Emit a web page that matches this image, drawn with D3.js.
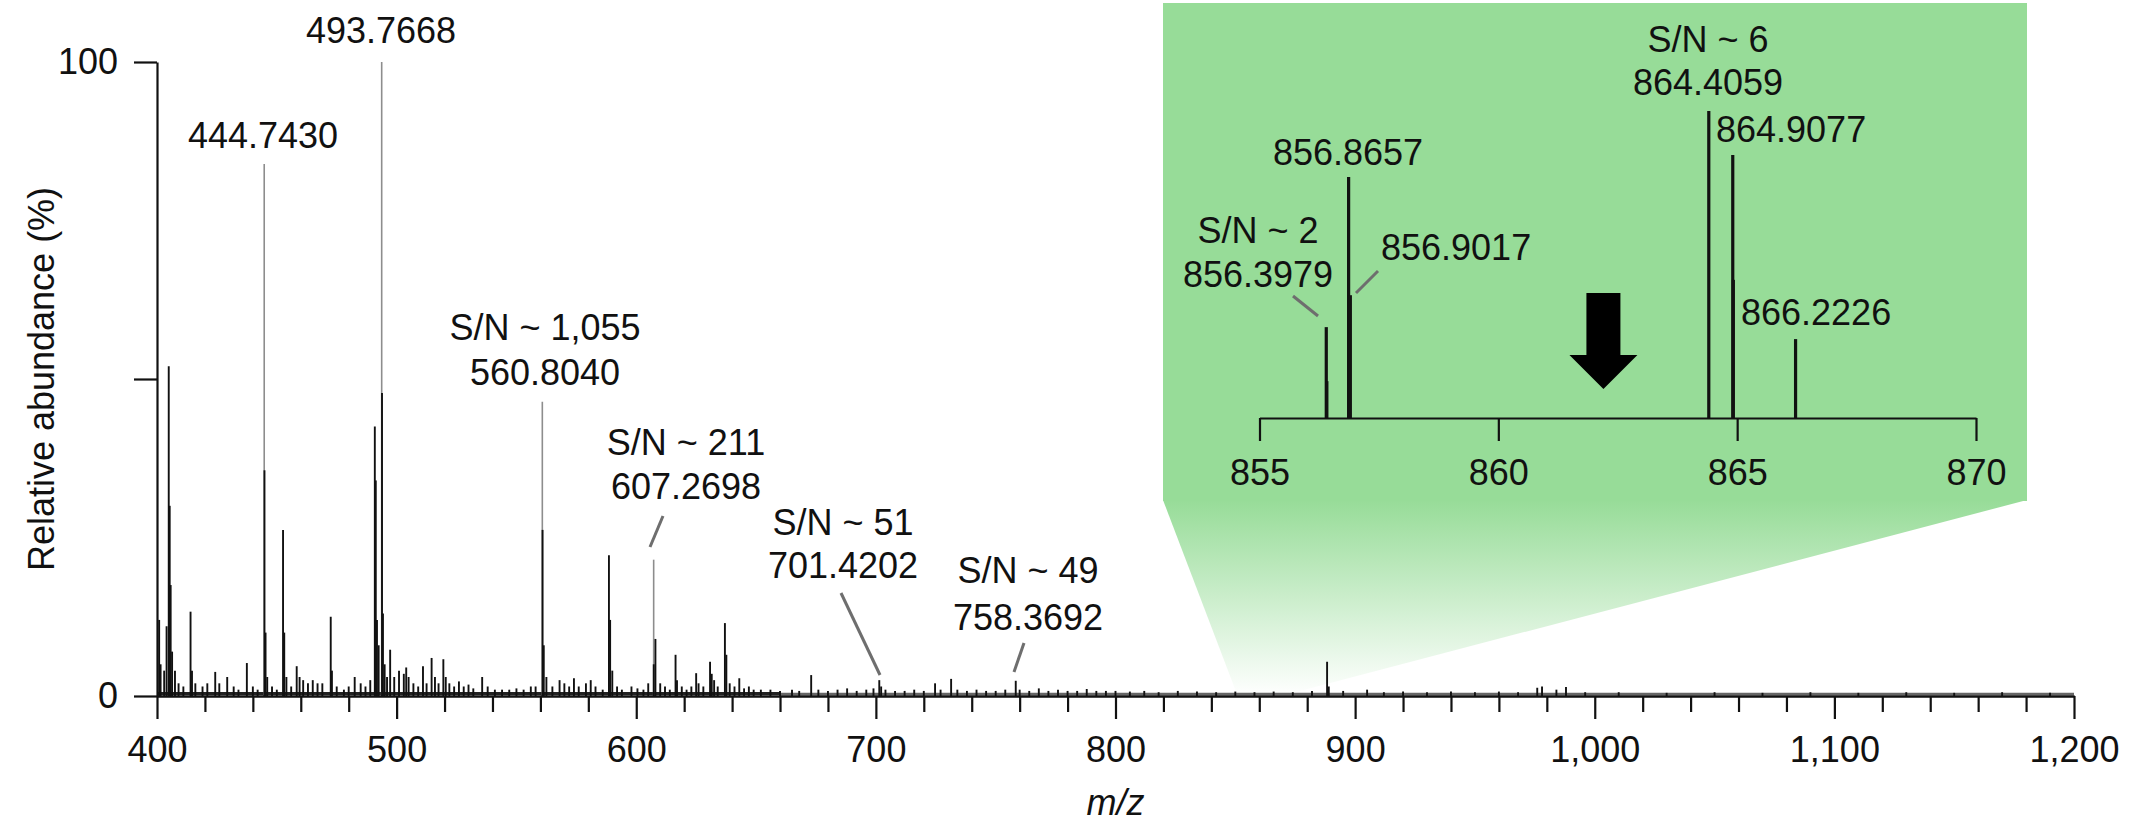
<!DOCTYPE html>
<html>
<head>
<meta charset="utf-8">
<script src="https://d3js.org/d3.v7.min.js"></script>
<style>
body { margin: 0; background: #fff; }
svg text { font-family: "Liberation Sans", Arial, Helvetica, sans-serif; font-size: 36px; fill: #111; }
</style>
</head>
<body>
<script>
// main spectrum sticks (m/z, relative abundance %)
var stickMz = [400.9, 401.5, 403.0, 404.0, 404.9, 405.3, 405.7, 406.3, 407.5, 409, 411, 414.0, 414.6, 416, 419, 421,
  424.3, 426, 429.3, 432, 434, 437.5, 440, 442, 444.85, 445.3, 446, 448, 450, 452.6, 453.1, 454, 456, 458.3, 459.5,
  461, 463, 465, 467, 469, 472.5, 473, 475, 478, 480, 482.5, 485, 487, 489, 490.9, 491.3, 491.8, 492.5, 493.9, 494.3,
  495, 496, 497.3, 499, 501, 503, 504, 505, 507, 509, 511, 512.5, 514.6, 516, 517.5, 519.5, 520.5, 522, 524, 526,
  528, 530, 532, 535.7, 538, 541, 544, 547, 550, 553, 556, 558, 560.9, 561.4, 562.5, 565, 568, 570, 572, 574, 576,
  579, 581, 583, 586, 588.6, 589.1, 590, 592, 594, 598, 600.5, 603, 605, 607.3, 608.0, 610, 612, 614, 616.4, 617,
  619, 621, 623, 625, 626, 628, 630.8, 631.5, 632.5, 634, 637, 637.6, 639, 641, 643, 645, 647, 649, 652, 656, 660,
  665, 668, 673, 676, 680, 684, 688, 692, 696, 699, 701.42, 702.2, 704, 708, 712, 716, 720, 724.7, 727, 731.4, 734,
  738, 742, 746, 750, 754, 758.37, 760, 764, 768, 772, 776, 780, 784, 788, 792, 796, 800, 806, 812, 818, 826, 834,
  842, 850, 858, 866, 874, 882, 888.3, 889, 895, 905, 912, 920, 930, 940, 950, 960, 968, 976, 978, 984, 988, 996,
  1010, 1030, 1050, 1070, 1090, 1110, 1130, 1150, 1170, 1190];
var stickInt = [12, 5, 4, 11, 52, 30, 17.5, 7, 4, 2, 1.5, 13.3, 4, 2, 1.5, 2,
  3.8, 2, 3.0, 1.5, 1, 5.2, 1.5, 1, 35.6, 10, 3, 1.5, 1, 26.2, 10, 3, 1.5, 4.7, 3,
  2.5, 2, 2.5, 2, 2, 12.5, 4, 1.5, 1, 1.5, 3, 2, 1.5, 2.5, 42.5, 34, 12, 8, 47.8, 13,
  5, 3, 7.3, 3, 4, 3.5, 4.5, 3, 2, 1.5, 4.7, 2, 6, 3, 2, 5.8, 3, 2, 1.5, 2.3,
  1.5, 1.8, 1.2, 3, 1.5, 1, 1, 1, 1.2, 1, 1.5, 1.5, 26.2, 8, 3, 1.5, 2.5, 2, 1.5, 2.8, 1.5,
  2, 2.5, 1.5, 1, 22.2, 12, 4, 1.5, 1, 1.5, 1.2, 1, 2, 5, 9, 2, 1.5, 1, 6.5, 2.5,
  1.5, 1, 1.5, 3.6, 2, 1.5, 5.4, 3.5, 2.5, 1.5, 11.5, 6.5, 2, 1.5, 2.8, 1.2, 1.5, 1, 1, 1, 0.8,
  1, 0.8, 3.3, 1, 0.8, 1, 1.2, 0.8, 1, 1.2, 2.5, 1.5, 1, 0.8, 0.8, 1, 0.8, 2, 1, 2.7, 1,
  0.8, 1, 0.8, 0.8, 1, 2.4, 1, 0.8, 1.2, 0.8, 1, 0.8, 0.8, 1.1, 0.8, 0.8, 0.8, 0.7, 0.8, 0.6, 0.8, 0.7,
  0.6, 0.7, 0.6, 0.7, 0.6, 0.8, 5.4, 1.5, 0.8, 1, 0.6, 0.7, 0.6, 0.7, 0.6, 0.7, 0.6, 1.3, 1.5, 1, 1.4, 0.6,
  0.6, 0.5, 0.6, 0.5, 0.6, 0.5, 0.6, 0.5, 0.6, 0.5];

// thin apex of the labelled peaks (drawn grey)
var apexMz = [444.7430, 493.7668, 560.8040, 607.2698];
var apexInt = [83.9, 100, 46.4, 21.5];

// inset sticks
var insetMz = [856.3979, 856.41, 856.8657, 856.9017, 864.4059, 864.9077, 864.92, 866.2226];
var insetInt = [29.6, 12, 78.5, 40, 100, 85.7, 45, 25.7];

var xTicks = [400, 500, 600, 700, 800, 900, 1000, 1100, 1200];
var insetTicks = [855, 860, 865, 870];

var W = 2136, H = 823;
var svg = d3.select('body').append('svg')
  .attr('width', W).attr('height', H);

var x = d3.scaleLinear().domain([400, 1200]).range([157, 2074]);
var y = d3.scaleLinear().domain([0, 100]).range([696, 62]);
var xi = d3.scaleLinear().domain([855, 870]).range([1259.5, 1976]);
var yi = d3.scaleLinear().domain([0, 100]).range([418, 111]);

// green zoom region
var green = '#97dc98';
var grad = svg.append('defs').append('linearGradient')
  .attr('id', 'fade').attr('gradientUnits', 'userSpaceOnUse')
  .attr('x1', 0).attr('x2', 0).attr('y1', 500).attr('y2', y(0));
grad.append('stop').attr('offset', 0).attr('stop-color', green).attr('stop-opacity', 1);
grad.append('stop').attr('offset', 1).attr('stop-color', green).attr('stop-opacity', 0);

svg.append('rect').attr('x', 1163).attr('y', 3).attr('width', 2027 - 1163).attr('height', 498)
  .attr('fill', green);
svg.append('path')
  .attr('d', d3.line()([[1163, 500], [2027, 500], [x(869), y(0)], [x(851), y(0)]]) + 'Z')
  .attr('fill', 'url(#fade)');

// noise band along baseline
svg.append('line').attr('x1', x(400)).attr('x2', x(660))
  .attr('y1', y(0) - 2.5).attr('y2', y(0) - 2.5)
  .style('stroke', '#222').style('stroke-width', 3);
svg.append('line').attr('x1', x(660)).attr('x2', x(1200))
  .attr('y1', y(0) - 2).attr('y2', y(0) - 2)
  .style('stroke', '#666').style('stroke-width', 2.5);

// main sticks
svg.append('g').selectAll('line').data(apexMz).enter().append('line')
  .attr('x1', function(d){ return x(d); }).attr('x2', function(d){ return x(d); })
  .attr('y1', y(0)).attr('y2', function(d, i){ return y(apexInt[i]); })
  .style('stroke', '#8d8d8d').style('stroke-width', 1.6);

svg.append('g').selectAll('line').data(stickMz).enter().append('line')
  .attr('x1', function(d){ return x(d); }).attr('x2', function(d){ return x(d); })
  .attr('y1', y(0)).attr('y2', function(d, i){ return y(stickInt[i]); })
  .style('stroke', '#111').style('stroke-width', 1.9);

// axes
var xMinor = d3.range(400, 1201, 20).filter(function(d){ return d % 100 !== 0; });
var gxm = svg.append('g').attr('transform', 'translate(0,' + y(0) + ')')
  .call(d3.axisBottom(x).tickValues(xMinor).tickSize(16).tickSizeOuter(0).tickFormat(''));
var gx = svg.append('g').attr('transform', 'translate(0,' + y(0) + ')')
  .call(d3.axisBottom(x).tickValues(xTicks).tickSize(23).tickSizeOuter(0)
    .tickPadding(17).tickFormat(d3.format(',')));
var gy = svg.append('g').attr('transform', 'translate(' + x(400) + ',0)')
  .call(d3.axisLeft(y).tickValues([0, 50, 100]).tickSize(23).tickSizeOuter(0).tickPadding(16)
    .tickFormat(function(d){ return d === 50 ? '' : d; }));

[gxm, gx, gy].forEach(function(g){
  g.selectAll('path,line').style('stroke', '#111').style('stroke-width', 2.2);
  g.selectAll('text').style('font-size', '36px').style('fill', '#111')
    .style('font-family', '"Liberation Sans", Arial, sans-serif');
});

svg.append('text').attr('x', x(800)).attr('y', 815).attr('text-anchor', 'middle')
  .style('font-style', 'italic').text('m/z');
svg.append('text').attr('transform', 'translate(54,' + y(50) + ') rotate(-90)')
  .attr('text-anchor', 'middle').text('Relative abundance (%)');

// inset
svg.append('g').selectAll('line').data(insetMz).enter().append('line')
  .attr('x1', function(d){ return xi(d); }).attr('x2', function(d){ return xi(d); })
  .attr('y1', yi(0)).attr('y2', function(d, i){ return yi(insetInt[i]); })
  .style('stroke', '#111').style('stroke-width', 3.2);

var gi = svg.append('g').attr('transform', 'translate(0,' + yi(0) + ')')
  .call(d3.axisBottom(xi).tickValues(insetTicks).tickSize(23).tickSizeOuter(0).tickPadding(18));
gi.selectAll('path,line').style('stroke', '#111').style('stroke-width', 2.2);
gi.selectAll('text').style('font-size', '36px').style('fill', '#111')
  .style('font-family', '"Liberation Sans", Arial, sans-serif');

// arrow
var ax = xi(862.2);
svg.append('path')
  .attr('d', 'M' + (ax - 17) + ',293 H' + (ax + 17) + ' V355 H' + (ax + 34) + ' L' + ax + ',389 L' + (ax - 34) + ',355 H' + (ax - 17) + 'Z')
  .attr('fill', '#000');

// annotations
var labels = [
  { t: '493.7668', x: 381, y: 43, a: 'middle' },
  { t: '444.7430', x: 263, y: 148, a: 'middle' },
  { t: 'S/N ~ 1,055', x: 545, y: 340, a: 'middle' },
  { t: '560.8040', x: 545, y: 385, a: 'middle' },
  { t: 'S/N ~ 211', x: 686, y: 455, a: 'middle' },
  { t: '607.2698', x: 686, y: 499, a: 'middle' },
  { t: 'S/N ~ 51', x: 843, y: 535, a: 'middle' },
  { t: '701.4202', x: 843, y: 578, a: 'middle' },
  { t: 'S/N ~ 49', x: 1028, y: 583, a: 'middle' },
  { t: '758.3692', x: 1028, y: 630, a: 'middle' },
  { t: 'S/N ~ 6', x: 1708, y: 52, a: 'middle' },
  { t: '864.4059', x: 1708, y: 95, a: 'middle' },
  { t: '864.9077', x: 1716, y: 142, a: 'start' },
  { t: '856.8657', x: 1348, y: 165, a: 'middle' },
  { t: 'S/N ~ 2', x: 1258, y: 243, a: 'middle' },
  { t: '856.3979', x: 1258, y: 287, a: 'middle' },
  { t: '856.9017', x: 1381, y: 260, a: 'start' },
  { t: '866.2226', x: 1741, y: 325, a: 'start' }
];
svg.append('g').selectAll('text').data(labels).enter().append('text')
  .attr('x', function(d){ return d.x; }).attr('y', function(d){ return d.y; })
  .attr('text-anchor', function(d){ return d.a; })
  .text(function(d){ return d.t; });

var leaders = [
  [663, 516, 650, 547],
  [841, 593, 880, 675],
  [1024, 643, 1014, 672],
  [1293, 296, 1318, 316],
  [1378, 271, 1356, 293]
];
svg.append('g').selectAll('line').data(leaders).enter().append('line')
  .attr('x1', function(d){ return d[0]; }).attr('y1', function(d){ return d[1]; })
  .attr('x2', function(d){ return d[2]; }).attr('y2', function(d){ return d[3]; })
  .style('stroke', '#6e6e6e').style('stroke-width', 3);
</script>
</body>
</html>
